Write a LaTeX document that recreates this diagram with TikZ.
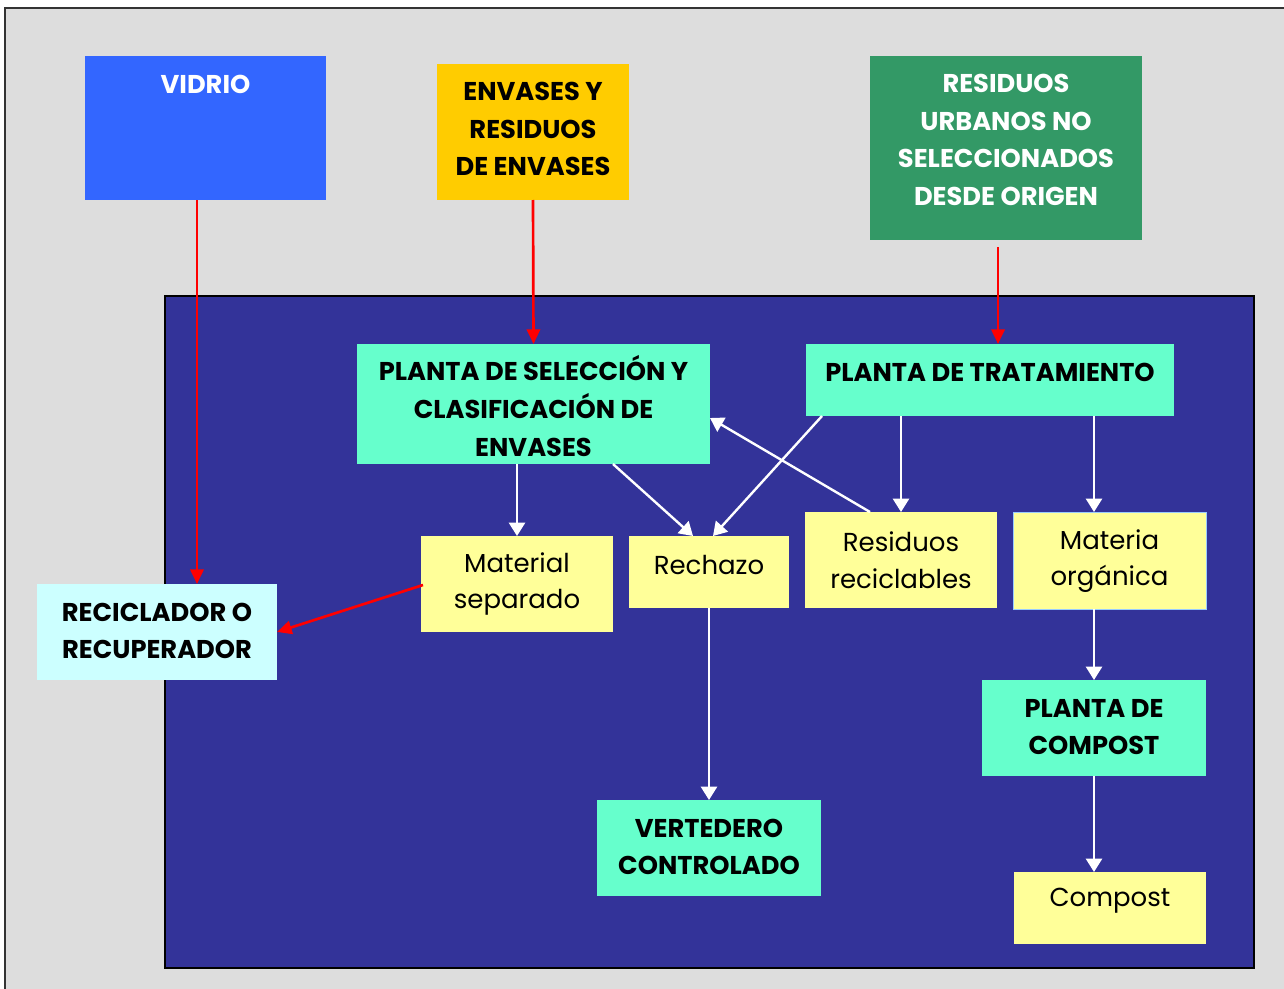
\documentclass[tikz,border=0pt]{standalone}
\usepackage{fontspec}
\setmainfont{Poppins}
\usetikzlibrary{arrows.meta,calc}
\newdimen\px \px=0.75pt
\definecolor{cGray}{HTML}{DDDDDD}
\definecolor{cNavy}{HTML}{333399}
\definecolor{cBlue}{HTML}{3366FF}
\definecolor{cGold}{HTML}{FFCC00}
\definecolor{cGreen}{HTML}{339966}
\definecolor{cAqua}{HTML}{66FFCC}
\definecolor{cYel}{HTML}{FFFF99}
\definecolor{cCyan}{HTML}{CCFFFF}
\definecolor{cEdge}{HTML}{99CCFF}
\definecolor{cRed}{HTML}{FF0000}
\tikzset{
  box/.style={rectangle, inner sep=0pt, outer sep=0pt, draw=none},
  btxt/.style={inner sep=0pt, align=center, font=\fontsize{19.3}{28.2}\selectfont\bfseries},
  rtxt/.style={inner sep=0pt, align=center, font=\fontsize{19.5}{27.4}\selectfont},
  redarr/.style={draw=cRed, line width=2pt, -{Triangle[length=11pt,width=10pt]}},
  whitearr/.style={draw=white, line width=1.8pt, -{Triangle[length=10pt,width=12pt]}}
}
\begin{document}
\begin{tikzpicture}[x=0.75pt,y=-0.75pt]
\useasboundingbox (0,0) rectangle (1284,988);
\fill[white] (0,0) rectangle (1284,988);
\begin{scope}
\clip (0,0) rectangle (1284,988);
\filldraw[fill=cGray, draw=black!80, line width=1.5pt] (5,8) rectangle (1300,1010);
\end{scope}
\filldraw[fill=cNavy, draw=black, line width=1.5pt] (165,296) rectangle (1254,968);

% boxes
\node[box, fill=cBlue,  minimum width=241\px, minimum height=144\px] (vid)   at (205.5,128) {};
\node[box, fill=cGold,  minimum width=192\px, minimum height=136\px] (env)   at (533,132) {};
\node[box, fill=cGreen, minimum width=272\px, minimum height=184\px] (rum)   at (1006,148) {};
\node[box, fill=cAqua,  minimum width=353\px, minimum height=120\px] (psel)  at (533.5,404) {};
\node[box, fill=cAqua,  minimum width=368\px, minimum height=72\px]  (ptrat) at (990,380) {};
\node[box, fill=cYel,   minimum width=192\px, minimum height=96\px]  (mat)   at (517,584) {};
\node[box, fill=cYel,   minimum width=160\px, minimum height=72\px]  (rech)  at (709,572) {};
\node[box, fill=cYel,   minimum width=192\px, minimum height=96\px]  (res)   at (901,560) {};
\node[box, fill=cYel, draw=cEdge, line width=0.6pt, minimum width=193\px, minimum height=97\px] (morg) at (1109.5,560.5) {};
\node[box, fill=cCyan,  minimum width=240\px, minimum height=96\px]  (rec)   at (157,632) {};
\node[box, fill=cAqua,  minimum width=224\px, minimum height=96\px]  (pcomp) at (1094,728) {};
\node[box, fill=cAqua,  minimum width=224\px, minimum height=96\px]  (vert)  at (709,848) {};
\node[box, fill=cYel,   minimum width=192\px, minimum height=72\px]  (comp)  at (1110,908) {};

% texts
\node[btxt, text=white] (vidT) at (205.5,84) {VIDRIO};
\node[btxt] (envT) at (533,129) {ENVASES Y\\RESIDUOS\\DE ENVASES};
\node[btxt, text=white] (rumT) at (1006,140) {RESIDUOS\\URBANOS NO\\SELECCIONADOS\\DESDE ORIGEN};
\node[btxt] (pselT) at (533.5,406) {PLANTA DE SELECCIÓN Y\\CLASIFICACIÓN DE\\ENVASES};
\node[btxt] (ptratT) at (990,372) {PLANTA DE TRATAMIENTO};
\node[rtxt] (matT) at (517,584) {Material\\separado};
\node[rtxt] (rechT) at (709,565) {Rechazo};
\node[rtxt] (resT) at (901,560) {Residuos\\reciclables};
\node[rtxt] (morgT) at (1109.5,561) {Materia\\orgánica};
\node[btxt] (recT) at (157,631) {RECICLADOR O\\RECUPERADOR};
\node[btxt] (pcompT) at (1094,727) {PLANTA DE\\COMPOST};
\node[btxt] (vertT) at (709,847) {VERTEDERO\\CONTROLADO};
\node[rtxt] (compT) at (1110,901) {Compost};

% red connectors
\draw[redarr] ($(vid.south west)+(112,0)$) -- ($(rec.north west)+(160,0)$);
\draw[redarr] (env.south) -- (psel.north);
\draw[redarr] ($(rum.south west)+(128,7)$) -- ($(ptrat.north west)+(192,0)$);
\draw[redarr] ($(mat.west)+(2,1)$) -- (rec.east);

% white connectors
\draw[whitearr] (psel.south -| mat.north) -- (mat.north);
\draw[whitearr] ($(psel.south west)+(256,0)$) -- ($(rech.north west)+(64,0)$);
\draw[whitearr] ($(ptrat.south west)+(16,0)$) -- ($(rech.north west)+(84,0)$);
\draw[whitearr] ($(res.north west)+(65,0)$) -- ($(psel.north east)+(0,74)$);
\draw[whitearr] (ptrat.south -| res.north) -- (res.north);
\draw[whitearr] (ptrat.south -| pcomp.north) -- (morg.north -| pcomp.north);
\draw[whitearr] (morg.south -| pcomp.north) -- (pcomp.north);
\draw[whitearr] (rech.south) -- (vert.north);
\draw[whitearr] (pcomp.south) -- (comp.north -| pcomp.south);
\end{tikzpicture}
\end{document}
